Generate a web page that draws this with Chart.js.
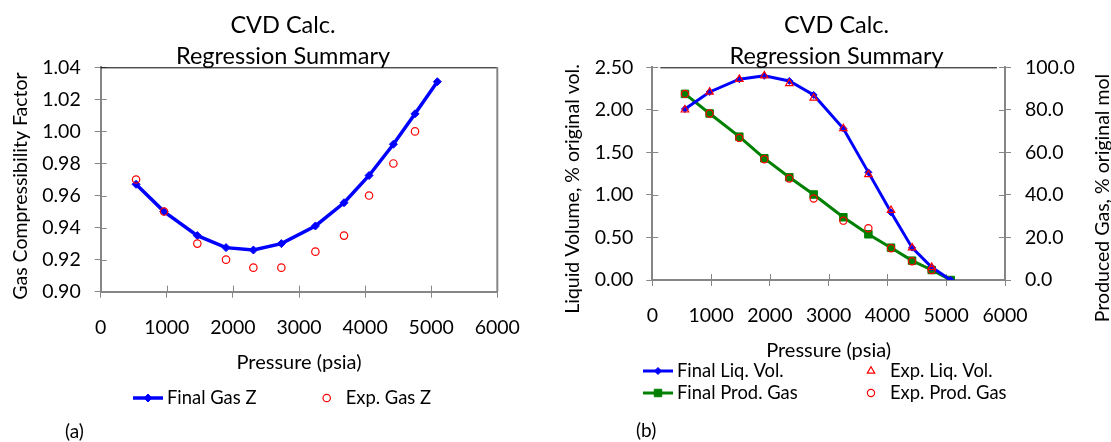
<!DOCTYPE html>
<html>
<head>
<meta charset="utf-8">
<script src="https://cdn.jsdelivr.net/npm/chart.js@4.4.1/dist/chart.umd.min.js"></script>
<style>
  html, body { margin: 0; padding: 0; background: #fff; }
  .box { position: absolute; top: 0; }
  #boxA { left: 0; }
  #boxB { left: 562px; }
</style>
</head>
<body>
<div class="box" id="boxA"><canvas id="chartA" width="566" height="442"></canvas></div>
<div class="box" id="boxB"><canvas id="chartB" width="549" height="442"></canvas></div>
<script>
// (a) gas compressibility factor vs pressure
const pressA = [535, 958, 1462, 1896, 2310, 2733, 3248, 3681, 4060, 4428, 4755, 5093];
const finalZ = [0.967, 0.950, 0.935, 0.9275, 0.926, 0.930, 0.941, 0.9555, 0.9725, 0.992, 1.011, 1.031];
const expZ = [0.970, 0.950, 0.930, 0.920, 0.915, 0.915, 0.925, 0.935, 0.960, 0.980, 1.000];

// (b) liquid volume and produced gas vs pressure
const pressB = [556, 975, 1480, 1906, 2331, 2745, 3250, 3676, 4061, 4419, 4753, 5077];
const finalLiq = [2.01, 2.21, 2.36, 2.40, 2.34, 2.175, 1.78, 1.265, 0.795, 0.38, 0.15, 0.0];
const expLiq = [2.00, 2.21, 2.36, 2.40, 2.31, 2.14, 1.78, 1.24, 0.82, 0.38, 0.15];
const finalGas = [87.5, 78.3, 67.4, 57.2, 48.3, 40.2, 29.5, 21.5, 15.2, 9.1, 4.7, 0.0];
const expGas = [87.5, 78.3, 66.8, 56.8, 47.7, 38.3, 27.9, 24.3, 14.9, 8.8, 4.7];

// tick labels
const pressTicks = [0, 1000, 2000, 3000, 4000, 5000, 6000];
const zTicks = [0.90, 0.92, 0.94, 0.96, 0.98, 1.00, 1.02, 1.04];
const liqTicks = [0, 0.5, 1.0, 1.5, 2.0, 2.5];
const gasTicks = [0, 20, 40, 60, 80, 100];

const FONT = 'Lato';
const gray = '#868686';
Chart.defaults.font.family = FONT;
Chart.defaults.color = '#000';

const pts = (xs, ys) => ys.map((y, i) => ({x: xs[i], y: y}));

// axis with crossing tick marks, fixed box size
function axis(ticks, fmt, size, pad, extra) {
    return Object.assign({
        type: 'linear',
        min: ticks[0],
        max: ticks[ticks.length - 1],
        afterBuildTicks: s => { s.ticks = ticks.map(v => ({value: v})); },
        afterFit: s => { if (s.isHorizontal()) s.height = size; else s.width = size; },
        ticks: { font: {size: 19.5}, padding: pad, callback: v => fmt(v) },
        grid: { drawOnChartArea: false, tickLength: 6, color: gray, lineWidth: 1 },
        border: { color: gray, width: 2 }
    }, extra || {});
}

// empty axis that only reserves room on the right
function spacer(size) {
    return {
        type: 'linear', position: 'right', display: true,
        afterFit: s => { s.width = size; },
        ticks: { display: false }, grid: { display: false }, border: { display: false }
    };
}

const innerTicks = {
    id: 'innerTicks',
    beforeDatasetsDraw(chart) {
        const ctx = chart.ctx, a = chart.chartArea;
        ctx.save();
        ctx.strokeStyle = gray;
        ctx.lineWidth = 1;
        for (const s of Object.values(chart.scales)) {
            if (s.options.ticks.display === false) continue;
            for (const t of s.ticks) {
                const p = Math.round(s.getPixelForValue(t.value)) + 0.5;
                ctx.beginPath();
                if (s.isHorizontal()) { ctx.moveTo(p, a.bottom); ctx.lineTo(p, a.bottom - 6); }
                else if (s.position === 'left') { ctx.moveTo(a.left, p); ctx.lineTo(a.left + 6, p); }
                else { ctx.moveTo(a.right, p); ctx.lineTo(a.right - 6, p); }
                ctx.stroke();
            }
        }
        ctx.restore();
    }
};

const frame = {
    id: 'frame',
    beforeDatasetsDraw(chart, args, o) {
        const ctx = chart.ctx, a = chart.chartArea;
        ctx.save();
        ctx.strokeStyle = '#000';
        ctx.lineWidth = 1;
        ctx.beginPath();
        ctx.moveTo(a.left + o.inset, a.top + 0.5);
        ctx.lineTo(a.right - o.inset, a.top + 0.5);
        ctx.stroke();
        if (o.right) {
            ctx.strokeStyle = gray;
            ctx.lineWidth = 2;
            ctx.beginPath();
            ctx.moveTo(a.right, a.top);
            ctx.lineTo(a.right, a.bottom);
            ctx.stroke();
        }
        ctx.restore();
    }
};

function marker(ctx, ds, x, y) {
    ctx.fillStyle = ds.pointBackgroundColor;
    ctx.strokeStyle = ds.pointBorderColor;
    ctx.lineWidth = ds.pointBorderWidth;
    Chart.helpers.drawPoint(ctx, {
        pointStyle: ds.pointStyle, radius: ds.pointRadius, rotation: 0, borderWidth: ds.pointBorderWidth
    }, x, y);
}

// legend + side titles + panel tag
const extras = {
    id: 'extras',
    afterDraw(chart, args, o) {
        const ctx = chart.ctx;
        ctx.save();
        ctx.textBaseline = 'middle';
        ctx.fillStyle = '#000';
        chart.data.datasets.forEach((ds, i) => {
            const [x, y] = o.spots[i];
            if (ds.showLine !== false) {
                ctx.strokeStyle = ds.borderColor;
                ctx.lineWidth = ds.borderWidth;
                ctx.beginPath();
                ctx.moveTo(x, y);
                ctx.lineTo(x + 30, y);
                ctx.stroke();
            }
            marker(ctx, ds, x + 15, y);
            ctx.fillStyle = '#000';
            ctx.font = '18.4px ' + FONT;
            ctx.textAlign = 'left';
            ctx.fillText(ds.label, x + 34, y);
        });
        ctx.font = '19px ' + FONT;
        ctx.fillText(o.tag[0], o.tag[1], o.tag[2]);
        ctx.font = '19.5px ' + FONT;
        ctx.textAlign = 'center';
        for (const [text, x, y] of o.sideTitles) {
            ctx.save();
            ctx.translate(x, y);
            ctx.rotate(-Math.PI / 2);
            ctx.fillText(text, 0, 0);
            ctx.restore();
        }
        ctx.restore();
    }
};

const title = {
    display: true,
    text: ['CVD Calc.', 'Regression Summary'],
    font: { size: 23.5, weight: 'normal', lineHeight: '31.5px' },
    color: '#000',
    padding: { top: 9.5, bottom: -5.2 }
};

new Chart(document.getElementById('chartA'), {
    type: 'scatter',
    data: {
        datasets: [{
            label: 'Final Gas Z',
            data: pts(pressA, finalZ),
            showLine: true,
            order: 1,
            borderColor: '#0000ff',
            borderWidth: 3.5,
            pointStyle: 'rectRot',
            pointRadius: 4,
            pointBackgroundColor: '#0000ff',
            pointBorderColor: '#0000ff',
            pointBorderWidth: 1
        }, {
            label: 'Exp. Gas Z',
            data: pts(pressA, expZ),
            showLine: false,
            order: 0,
            pointStyle: 'circle',
            pointRadius: 3.7,
            pointBackgroundColor: 'rgba(0,0,0,0)',
            pointBorderColor: '#ff0000',
            pointBorderWidth: 1.2
        }]
    },
    options: {
        responsive: false,
        animation: false,
        layout: { padding: 0 },
        scales: {
            x: axis(pressTicks, v => String(v), 150.3, 18.6, {
                position: 'bottom',
                title: { display: true, text: 'Pressure (psia)', font: {size: 20}, padding: {top: 0, bottom: 67.2} }
            }),
            y: axis(zTicks, v => v.toFixed(2), 100.7, 14, { position: 'left' }),
            pad: spacer(68.7)
        },
        plugins: {
            legend: { display: false },
            tooltip: { enabled: false },
            title: title,
            frame: { inset: 0, right: true },
            extras: {
                spots: [[133, 398], [311.7, 398]],
                tag: ['(a)', 65, 432],
                sideTitles: [['Gas Compressibility Factor', 21, 186]]
            }
        }
    },
    plugins: [innerTicks, frame, extras]
});

new Chart(document.getElementById('chartB'), {
    type: 'scatter',
    data: {
        datasets: [{
            label: 'Final Liq. Vol.',
            data: pts(pressB, finalLiq),
            yAxisID: 'y',
            showLine: true,
            order: 1,
            borderColor: '#0000ff',
            borderWidth: 3,
            pointStyle: 'rectRot',
            pointRadius: 3.5,
            pointBackgroundColor: '#0000ff',
            pointBorderColor: '#0000ff',
            pointBorderWidth: 1
        }, {
            label: 'Exp. Liq. Vol.',
            data: pts(pressB, expLiq),
            yAxisID: 'y',
            showLine: false,
            order: 0,
            pointStyle: 'triangle',
            pointRadius: 4.3,
            pointBackgroundColor: 'rgba(0,0,0,0)',
            pointBorderColor: '#ff0000',
            pointBorderWidth: 1.2
        }, {
            label: 'Final Prod. Gas',
            data: pts(pressB, finalGas),
            yAxisID: 'y2',
            showLine: true,
            order: 2,
            borderColor: '#008000',
            borderWidth: 3,
            pointStyle: 'rect',
            pointRadius: 5.3,
            pointBackgroundColor: '#008000',
            pointBorderColor: '#008000',
            pointBorderWidth: 1
        }, {
            label: 'Exp. Prod. Gas',
            data: pts(pressB, expGas),
            yAxisID: 'y2',
            showLine: false,
            order: 0,
            pointStyle: 'circle',
            pointRadius: 3.6,
            pointBackgroundColor: 'rgba(0,0,0,0)',
            pointBorderColor: '#ff0000',
            pointBorderWidth: 1.2
        }]
    },
    options: {
        responsive: false,
        animation: false,
        layout: { padding: 0 },
        scales: {
            x: axis(pressTicks, v => String(v), 162, 18, {
                position: 'bottom',
                title: { display: true, text: 'Pressure (psia)', font: {size: 20}, padding: {top: 0, bottom: 79.2} }
            }),
            y: axis(liqTicks, v => v.toFixed(2), 90.3, 13, { position: 'left' }),
            y2: axis(gasTicks, v => v.toFixed(1), 106, 14, { position: 'right' })
        },
        plugins: {
            legend: { display: false },
            tooltip: { enabled: false },
            title: title,
            frame: { inset: 8, right: false },
            extras: {
                spots: [[81, 371], [294, 371], [81, 393], [294, 393]],
                tag: ['(b)', 74, 431],
                sideTitles: [['Liquid Volume, % original vol.', 11, 189], ['Produced Gas, % original mol', 541, 198]]
            }
        }
    },
    plugins: [innerTicks, frame, extras]
});
</script>
</body>
</html>
